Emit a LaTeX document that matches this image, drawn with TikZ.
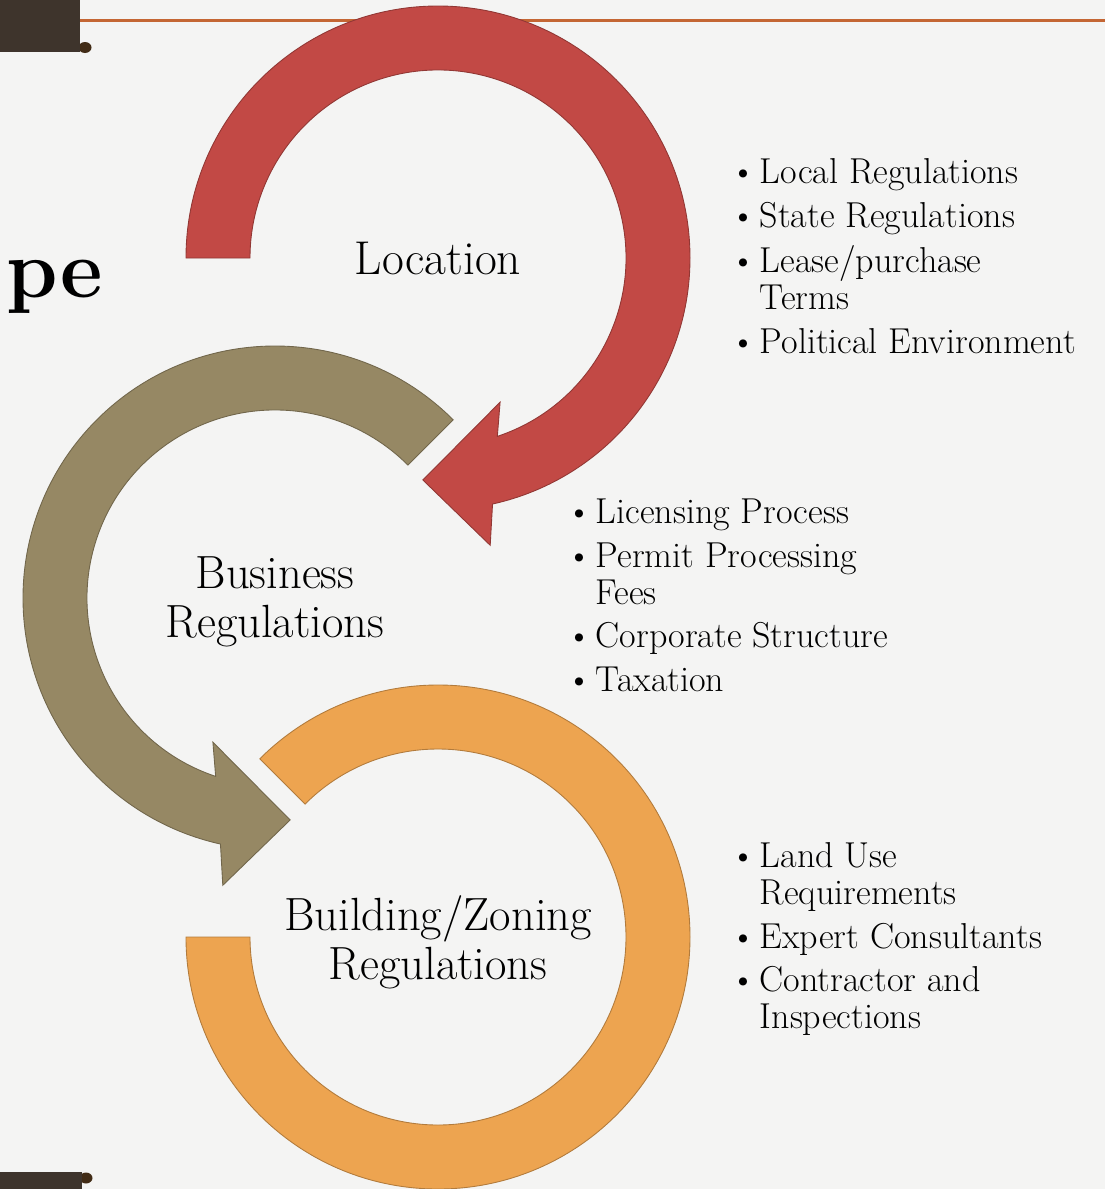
\documentclass[tikz,border=0pt]{standalone}
\usepackage{fontspec}
\usepackage{tikz}
\definecolor{paper}{RGB}{244,244,243}
\definecolor{bardark}{RGB}{62,52,44}
\definecolor{knobdark}{RGB}{66,44,22}
\definecolor{rulecopper}{RGB}{196,102,52}
\definecolor{locred}{RGB}{194,73,69}
\definecolor{bizolive}{RGB}{150,136,100}
\definecolor{bldorange}{RGB}{237,164,80}

\begin{document}
\begin{tikzpicture}[
    arcband/.style={fill=#1, draw=#1!75!black, line width=0.5pt},
    ringtext/.style={align=center, inner sep=0pt, font=\fontsize{26.5}{28}\selectfont},
    notes/.style={anchor=north west, inner sep=0pt, font=\fontsize{20.5}{21}\selectfont}
]

% Page: 1105 x 1189 px at 50 px per cm
\useasboundingbox (0,0) rectangle (22.1,-23.78);
\fill[paper] (0,0) rectangle (22.1,-23.78);

% Header bar with knob, and the copper rule
\fill[knobdark] (1.7,-0.95) ellipse (0.13 and 0.11);
\fill[bardark] (0,0) rectangle (1.6,-1.04);
\draw[rulecopper, line width=1.4pt] (1.6,-0.41) -- (22.1,-0.41);

% Footer bar
\fill[knobdark] (1.72,-23.56) ellipse (0.13 and 0.11);
\fill[bardark] (0,-23.44) rectangle (1.64,-23.78);

% Title, cut at the left edge
\node[font=\fontsize{47}{50}\selectfont\bfseries, anchor=base east, inner sep=0pt] (title) at (2.06,-5.94) {pe};

% Ring centres - outer radius 5.04, inner radius 3.76
\coordinate (locc) at (8.76,-5.16);
\coordinate (bizc) at (5.5,-11.96);
\coordinate (bldc) at (8.76,-18.74);

% Location ring: clockwise from the left end, head points left
\path[arcband=locred] ([shift={(180:5.04)}]locc) arc[start angle=180, end angle=-77.5, radius=5.04]
    -- ([shift={(-79.7:5.84)}]locc) -- ([shift={(-93.9:4.45)}]locc) -- ([shift={(-66.7:3.14)}]locc)
    -- ([shift={(-71.6:3.76)}]locc) arc[start angle=-71.6, end angle=180, radius=3.76] -- cycle;

% Business ring: counter-clockwise from 45 deg, mirrored head
\path[arcband=bizolive] ([shift={(45:5.04)}]bizc) arc[start angle=45, end angle=257.5, radius=5.04]
    -- ([shift={(259.7:5.84)}]bizc) -- ([shift={(273.9:4.45)}]bizc) -- ([shift={(246.7:3.14)}]bizc)
    -- ([shift={(251.6:3.76)}]bizc) arc[start angle=251.6, end angle=45, radius=3.76] -- cycle;

% Building ring: open at the upper left, no head
\path[arcband=bldorange] ([shift={(180:5.04)}]bldc) arc[start angle=180, end angle=495, radius=5.04]
    -- ([shift={(135:3.76)}]bldc) arc[start angle=135, end angle=-180, radius=3.76] -- cycle;

% Ring labels
\node[ringtext, font=\fontsize{27}{28}\selectfont] (loc) at (locc) {Location};
\node[ringtext] (bizreg) at (5.5,-12.04) {Business\\Regulations};
\node[ringtext] (bldreg) at (8.76,-18.84) {Building/Zoning\\Regulations};

% Bullet lists, 21pt lines and 4pt extra between items
\node[notes] (locnotes) at (14.6,-3.14) {\begin{tabular}{@{}c@{\hspace{0.07cm}}l@{}}
    \textbullet & Local Regulations\\[4pt]
    \textbullet & State Regulations\\[4pt]
    \textbullet & Lease/purchase\\
                & Terms\\[4pt]
    \textbullet & Political Environment
\end{tabular}};

\node[notes] (biznotes) at (11.32,-9.94) {\begin{tabular}{@{}c@{\hspace{0.07cm}}l@{}}
    \textbullet & Licensing Process\\[4pt]
    \textbullet & Permit Processing\\
                & Fees\\[4pt]
    \textbullet & Corporate Structure\\[4pt]
    \textbullet & Taxation
\end{tabular}};

\node[notes] (bldnotes) at (14.6,-16.82) {\begin{tabular}{@{}c@{\hspace{0.07cm}}l@{}}
    \textbullet & Land Use\\
                & Requirements\\[4pt]
    \textbullet & Expert Consultants\\[4pt]
    \textbullet & Contractor and\\
                & Inspections
\end{tabular}};

\end{tikzpicture}
\end{document}
